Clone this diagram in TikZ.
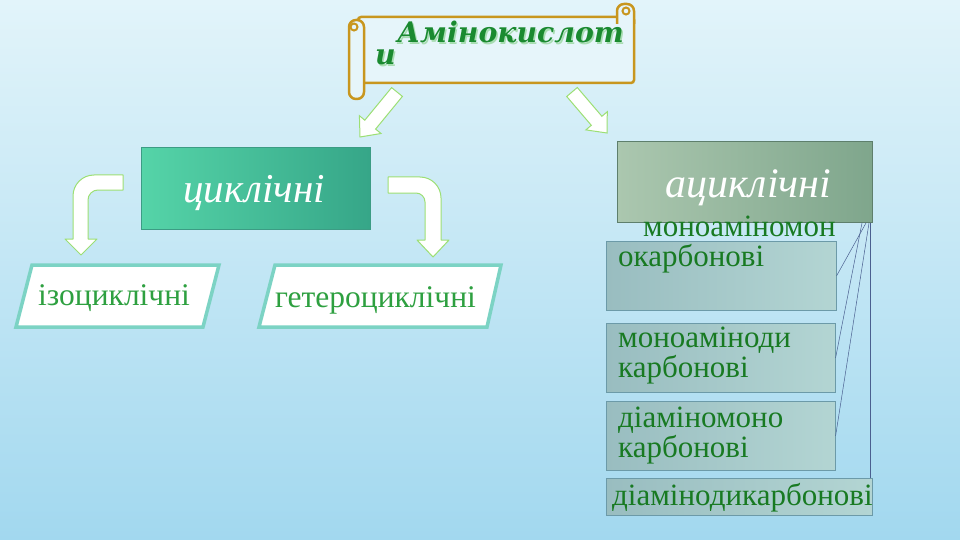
\documentclass[tikz,border=0pt]{standalone}
\usepackage{fontspec}
\setmainfont{Liberation Serif}
\newfontfamily\titlefont{DejaVu Serif}
\definecolor{bgtop}{HTML}{E2F4FA}
\definecolor{bgbot}{HTML}{A2D8EF}
\definecolor{gold}{HTML}{C8961E}
\definecolor{scrollfill}{HTML}{E6F5FA}
\definecolor{titlegreen}{HTML}{1A8A30}
\definecolor{titleshadow}{HTML}{A8DDB2}
\definecolor{boxgreen}{HTML}{187A22}
\definecolor{paragreen}{HTML}{2EA040}
\definecolor{arrowgreen}{HTML}{9CDF74}
\definecolor{paraborder}{HTML}{7CD3C4}
\definecolor{linkblue}{HTML}{4A5F8F}
\definecolor{cycB}{HTML}{3C9C84}
\definecolor{cycL}{HTML}{55D4A8}
\definecolor{cycR}{HTML}{36A688}
\definecolor{acycL}{HTML}{ABC7AF}
\definecolor{acycR}{HTML}{7FA68C}
\definecolor{acycB}{HTML}{5E7F6C}
\definecolor{subL}{HTML}{99BDC0}
\definecolor{subR}{HTML}{B3D5D3}
\definecolor{subB}{HTML}{6C9AA8}
\tikzset{
  titletext/.style={font=\titlefont\fontsize{28.3}{34}\selectfont\bfseries\itshape, text=titlegreen, inner sep=0pt, anchor=base west},
  titleshadowtext/.style={titletext, text=titleshadow},
  whiteital/.style={font=\fontsize{41}{44}\selectfont\itshape, text=white, inner sep=0pt, anchor=base west},
  paratext/.style={font=\fontsize{31.5}{34}\selectfont, text=paragreen, inner sep=0pt, anchor=base west},
  boxtext/.style={font=\fontsize{31}{34}\selectfont, text=boxgreen, inner sep=0pt, anchor=base west},
  cycbox/.style={draw=cycB, left color=cycL, right color=cycR, line width=0.6pt, inner sep=0pt, anchor=north west},
  acycbox/.style={draw=acycB, left color=acycL, right color=acycR, line width=0.6pt, inner sep=0pt, anchor=north west},
  subbox/.style={draw=subB, left color=subL, right color=subR, line width=0.6pt, inner sep=0pt, anchor=north west},
  parabox/.style={draw=paraborder, fill=white, line width=3.5pt, line join=miter},
  blockarrow/.style={draw=arrowgreen, fill=white, line width=1pt, line join=miter},
  curvearrow/.style={draw=arrowgreen, fill=white, line width=1pt, line join=round},
  link/.style={draw=linkblue, line width=0.5pt},
}
\begin{document}
\begin{tikzpicture}[x=1pt,y=-1pt]
\useasboundingbox (0,0) rectangle (960,540);
\shade[top color=bgtop, bottom color=bgbot] (0,0) rectangle (960,540);

% block arrows (behind scroll)
\draw[blockarrow] (402.4,96.4) -- (375.6,129.1) -- (381.0,133.5) -- (360,137) -- (359.4,115.7) -- (364.8,120.2) -- (391.6,87.6) -- cycle;
\draw[blockarrow] (577.3,87.5) -- (601.9,116.3) -- (607.3,111.7) -- (607,133) -- (585.9,129.9) -- (591.3,125.3) -- (566.7,96.5) -- cycle;

% scroll
\draw[gold, line width=2.5pt, fill=scrollfill, rounded corners=3pt] (358,17) rectangle (634,83);
\draw[gold, line width=2.5pt, fill=scrollfill, rounded corners=7pt] (617,24) -- (617,4) -- (634,4) -- (634,24);
\draw[gold, line width=2pt] (626,11) circle (3.5);
\draw[gold, line width=2.5pt, fill=scrollfill, rounded corners=7pt] (349,20) rectangle (364,99);
\draw[gold, line width=2pt] (354,27) circle (3.5);
\node[titleshadowtext] (t1s) at (398.5,44.5) {Амінокислот};
\node[titleshadowtext] (t2s) at (376.5,66.5) {и};
\node[titletext] (t1) at (397,43) {Амінокислот};
\node[titletext] (t2) at (375,65) {и};

% cyclic
\node[cycbox, minimum width=229pt, minimum height=82pt] (cyc) at (141,147) {};
\node[whiteital] (cyct) at (183,202) {циклічні};

% acyclic
\node[acycbox, minimum width=255pt, minimum height=81pt] (acyc) at (617,141) {};
\node[whiteital, font=\fontsize{42}{46}\selectfont\itshape] (acyct) at (665,197) {ациклічні};

% curved arrows
\draw[curvearrow] (123,175) -- (94,175) to[out=180,in=90] (73,196) -- (73,239) -- (65,239) -- (81,255) -- (97,239) -- (88,239) -- (88,200) to[out=90,in=180] (98,190) -- (123,190) -- cycle;
\draw[curvearrow] (388,177) -- (420,177) to[out=0,in=90] (441,198) -- (441,240) -- (449,240) -- (433,257) -- (417,240) -- (425,240) -- (425,202) to[out=90,in=0] (416,193) -- (388,193) -- cycle;

% parallelograms
\draw[parabox] (32,265) -- (219,265) -- (203,327) -- (16,327) -- cycle;
\node[paratext] (iso) at (38,305) {ізоциклічні};
\draw[parabox] (275,265) -- (501,265) -- (487,327) -- (259,327) -- cycle;
\node[paratext] (het) at (275,307) {гетероциклічні};

% sub boxes
\node[subbox, minimum width=230pt, minimum height=69pt] (b1) at (606,241) {};
\node[subbox, minimum width=229pt, minimum height=69pt] (b2) at (606,323) {};
\node[subbox, minimum width=229pt, minimum height=69pt] (b3) at (606,401) {};
\node[subbox, minimum width=266pt, minimum height=37pt] (b4) at (606,478) {};

\node[boxtext] (b1a) at (643,236) {моноаміномон};
\node[boxtext] (b1b) at (618,266) {окарбонові};
\node[boxtext] (b2a) at (618,347) {моноаміноди};
\node[boxtext] (b2b) at (618,377) {карбонові};
\node[boxtext] (b3a) at (618,427) {діаміномоно};
\node[boxtext] (b3b) at (618,457) {карбонові};
\node[boxtext] (b4a) at (612,505) {діамінодикарбонові};

% links
\coordinate (s1) at (866,223);
\coordinate (s2) at (862,223);
\coordinate (s3) at (869,223);
\coordinate (s4) at (870,223);
\draw[link] (s1) -- (b1.east);
\draw[link] (s2) -- (b2.east);
\draw[link] (s3) -- (b3.east);
\draw[link] (s4) -- (b4.north east -| s4);
\end{tikzpicture}
\end{document}
